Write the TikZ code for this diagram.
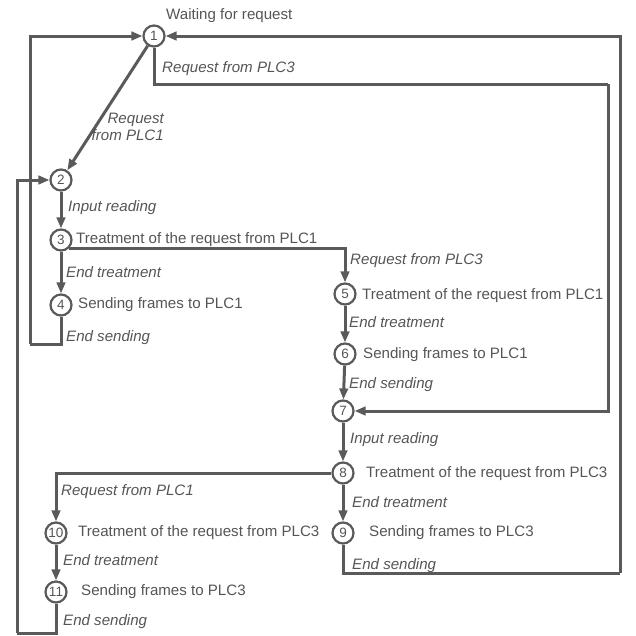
\documentclass[tikz,border=0pt]{standalone}
\usepackage{fontspec}
\setmainfont{Liberation Sans}
\usetikzlibrary{arrows.meta}
\definecolor{linegray}{RGB}{90,90,90}
\definecolor{textgray}{RGB}{85,85,85}
\tikzset{
state/.style={circle,draw=linegray,line width=2.2pt,fill=white,minimum size=21pt,inner sep=0pt,text=textgray,font=\fontsize{13.5}{13.5}\selectfont},
lbl/.style={anchor=west,inner sep=0pt,text=textgray,font=\fontsize{15.1}{17.5}\selectfont},
evt/.style={lbl,font=\fontsize{15.1}{17.5}\selectfont\itshape},
link/.style={draw=linegray,line width=3pt},
arr/.style={link,-{Triangle[length=11pt,width=8.5pt]}}
}
\begin{document}
\begin{tikzpicture}[x=1pt,y=1pt,yscale=-1]
\useasboundingbox (0,0) rectangle (636,635);

%States
\node [state] (s1) at (154,36) {1};
\node [state] (s2) at (61,180) {2};
\node [state] (s3) at (61,240) {3};
\node [state] (s4) at (61,305) {4};
\node [state] (s5) at (345,294) {5};
\node [state] (s6) at (345,354) {6};
\node [state] (s7) at (343,411) {7};
\node [state] (s8) at (343,473) {8};
\node [state] (s9) at (343,533) {9};
\node [state] (s10) at (56,533) {10};
\node [state] (s11) at (56,592) {11};

%Corners of the return lines
\coordinate (l4) at (30,344);
\coordinate (r1) at (608,84);
\coordinate (o9) at (620,573);
\coordinate (l11) at (17,633);

%Straight Lines
\draw [arr] (s1) -- (s2);
\draw [arr] (s2) -- (s3);
\draw [arr] (s3) -- (s4);
\draw [arr] (s5) -- (s6);
\draw [arr] (s6) -- (s7);
\draw [arr] (s7) -- (s8);
\draw [arr] (s8) -- (s9);
\draw [arr] (s10) -- (s11);
%Branches
\draw [arr] (s3.-45) -| (s5);
\draw [arr] (s8) -| (s10);
%Return lines
\draw [link] (s4) |- (l4);
\draw [arr] (l4) |- (s1);
\draw [link] (s1) |- (r1);
\draw [arr] (r1) |- (s7);
\draw [link] (s9) |- (o9);
\draw [arr] (o9) |- (s1);
\draw [link] (s11) |- (l11);
\draw [arr] (l11) |- (s2);

% Text Node
\node [lbl] (t1) at (166,16) {Waiting for request};
\node [evt] (e1) at (162,69) {Request from PLC3};
\node [evt,anchor=east,align=right] (e12) at (164,127) {Request\\from PLC1};
\node [evt] (e23) at (68,208) {Input reading};
\node [lbl] (t3) at (76,240) {Treatment of the request from PLC1};
\node [evt] (e34) at (66,272) {End treatment};
\node [lbl] (t4) at (78,305) {Sending frames to PLC1};
\node [evt] (e41) at (66,338) {End sending};
% Text Node
\node [evt] (e35) at (350,261) {Request from PLC3};
\node [lbl] (t5) at (362,296) {Treatment of the request from PLC1};
\node [evt] (e56) at (349,322) {End treatment};
\node [lbl] (t6) at (363,355) {Sending frames to PLC1};
\node [evt] (e67) at (349,385) {End sending};
% Text Node
\node [evt] (e78) at (350,440) {Input reading};
\node [lbl] (t8) at (366,474) {Treatment of the request from PLC3};
\node [evt] (e89) at (352,502) {End treatment};
\node [lbl] (t9) at (369,533) {Sending frames to PLC3};
\node [evt] (e91) at (352,566) {End sending};
% Text Node
\node [evt] (e810) at (61,492) {Request from PLC1};
\node [lbl] (t10) at (78,533) {Treatment of the request from PLC3};
\node [evt] (e1011) at (63,560) {End treatment};
\node [lbl] (t11) at (81,592) {Sending frames to PLC3};
\node [evt] (e112) at (63,622) {End sending};

\end{tikzpicture}
\end{document}
